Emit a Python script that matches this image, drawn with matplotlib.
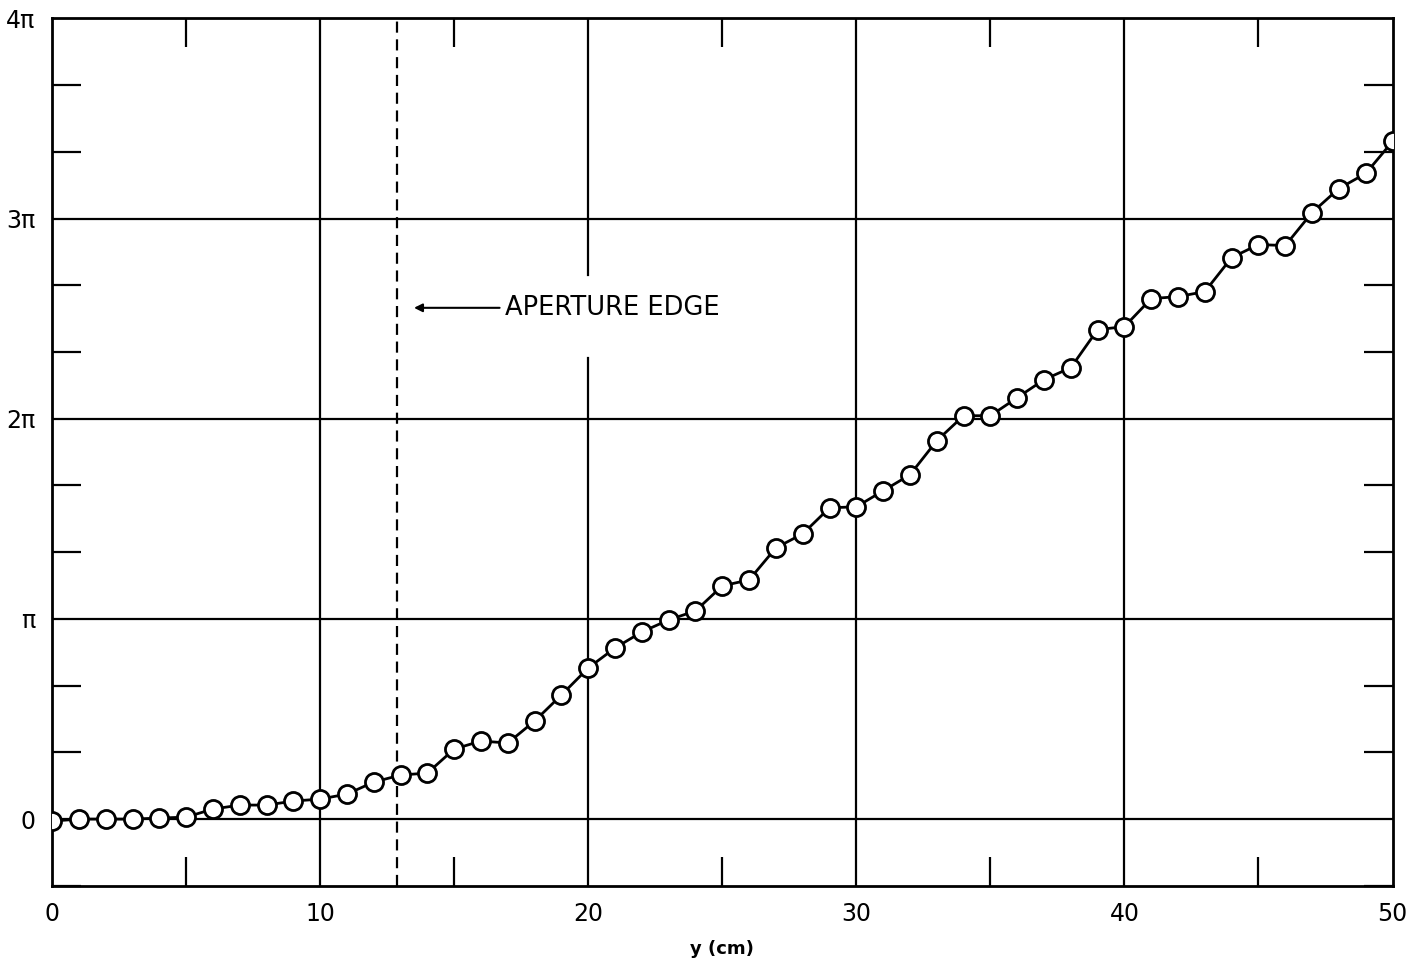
import numpy as np
import matplotlib.pyplot as plt

# phase (in units of pi) against position y (cm)
y_cm = list(range(0, 51))
phase_pi = [-0.01, 0.0, 0.0, 0.0, 0.005, 0.01, 0.05, 0.07, 0.07, 0.09,
            0.10, 0.125, 0.185, 0.22, 0.23, 0.35, 0.39, 0.38, 0.49, 0.62,
            0.755, 0.855, 0.935, 0.995, 1.04, 1.165, 1.195, 1.355, 1.425, 1.555,
            1.56, 1.64, 1.72, 1.89, 2.015, 2.015, 2.105, 2.195, 2.255, 2.445,
            2.46, 2.60, 2.61, 2.635, 2.805, 2.87, 2.865, 3.03, 3.15, 3.225,
            3.385]
aperture_edge = 12.86

y_ticks = [0, 1, 2, 3, 4]
y_labels = ['0', 'π', '2π', '3π', '4π']
x_ticks = [0, 10, 20, 30, 40, 50]

fig = plt.figure(figsize=(14.08, 9.66), dpi=100)
ax = fig.add_axes([0.037, 0.083, 0.952, 0.898])

ax.set_xlim(0, 50)
ax.set_ylim(-1/3, 4)

# grid lines (the one at 20 cm is broken around the label)
for xv in [10, 30, 40]:
    ax.axvline(xv, color='black', lw=1.6, zorder=1)
ax.axvline(20, ymin=0, ymax=0.608, color='black', lw=1.6, zorder=1)
ax.axvline(20, ymin=0.704, ymax=1, color='black', lw=1.6, zorder=1)
for yv in [0, 1, 2, 3]:
    ax.axhline(yv, color='black', lw=1.6, zorder=1)

ax.axvline(aperture_edge, color='black', lw=1.6, ls=(0, (5, 3)), zorder=1)

ax.plot(y_cm, phase_pi, color='black', lw=2, marker='o', ms=13,
        mfc='white', mec='black', mew=2, zorder=3)

ax.annotate('APERTURE EDGE', xy=(13.5, 2.554), xytext=(16.9, 2.554),
            fontsize=18.5, va='center', ha='left',
            arrowprops=dict(arrowstyle='-|>', color='black', lw=1.5,
                            mutation_scale=12, shrinkA=2, shrinkB=0))

ax.set_xticks(x_ticks)
ax.set_xticklabels([str(v) for v in x_ticks], fontsize=17)
ax.set_yticks(y_ticks)
ax.set_yticklabels(y_labels, fontsize=17)
ax.tick_params(axis='both', length=0, pad=12)

# inner minor ticks on all four sides
ax.set_xticks([5, 15, 25, 35, 45], minor=True)
ax.set_yticks([v / 3 for v in [-1, 1, 2, 4, 5, 7, 8, 10, 11]], minor=True)
ax.tick_params(which='minor', direction='in', length=21, width=1.6,
               top=True, right=True)
ax.tick_params(axis='x', which='minor', bottom=True)

for s in ax.spines.values():
    s.set_linewidth(2)

ax.set_xlabel('y (cm)', fontsize=13, fontweight='bold', labelpad=10)

fig.savefig('out.png', dpi=100)
